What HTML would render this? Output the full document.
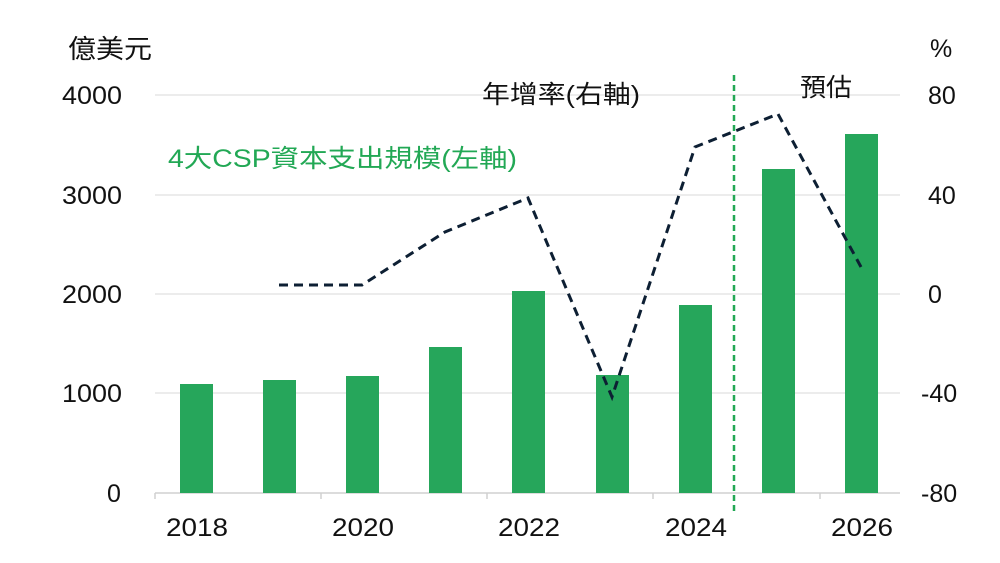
<!DOCTYPE html>
<html><head><meta charset="utf-8"><style>
html,body{margin:0;padding:0;background:#fff;}
svg{display:block;font-family:"Liberation Sans","Noto Sans CJK TC",sans-serif;}
</style></head><body>
<svg width="1000" height="563" viewBox="0 0 1000 563">
<g stroke="#e6e6e6" stroke-width="1.5">
<line x1="155" y1="95" x2="900" y2="95"/>
<line x1="155" y1="195" x2="900" y2="195"/>
<line x1="155" y1="294" x2="900" y2="294"/>
<line x1="155" y1="393" x2="900" y2="393"/>
</g>
<g stroke="#d0d0d0" stroke-width="1.5">
<line x1="155" y1="493" x2="900" y2="493"/>
<line x1="155" y1="493" x2="155" y2="499"/>
<line x1="321" y1="493" x2="321" y2="499"/>
<line x1="487" y1="493" x2="487" y2="499"/>
<line x1="653" y1="493" x2="653" y2="499"/>
<line x1="820" y1="493" x2="820" y2="499"/>
</g>
<g fill="#26a65b">
<rect x="180" y="384" width="33" height="109"/>
<rect x="263" y="380" width="33" height="113"/>
<rect x="346" y="376" width="33" height="117"/>
<rect x="429" y="347" width="33" height="146"/>
<rect x="512" y="291" width="33" height="202"/>
<rect x="596" y="375" width="33" height="118"/>
<rect x="679" y="305" width="33" height="188"/>
<rect x="762" y="169" width="33" height="324"/>
<rect x="845" y="134" width="33" height="359"/>
</g>
<line x1="734" y1="75" x2="734" y2="512" stroke="#22a855" stroke-width="2.5" stroke-dasharray="6,4"/>
<polyline points="279,285 362,285 445,232 528,198 612,397 695,147 778,114 861,267" fill="none" stroke="#0d1f33" stroke-width="3" stroke-dasharray="9,6"/>
<g font-size="25" fill="#111">
<text x="62" y="104" textLength="60" lengthAdjust="spacingAndGlyphs">4000</text>
<text x="62" y="204" textLength="60" lengthAdjust="spacingAndGlyphs">3000</text>
<text x="62" y="303" textLength="60" lengthAdjust="spacingAndGlyphs">2000</text>
<text x="62" y="402" textLength="60" lengthAdjust="spacingAndGlyphs">1000</text>
<text x="107" y="502">0</text>
<text x="928" y="104">80</text>
<text x="928" y="204">40</text>
<text x="928" y="303">0</text>
<text x="921" y="402">-40</text>
<text x="921" y="502">-80</text>
<text x="930" y="57">%</text>
<text x="166" y="536" textLength="62" lengthAdjust="spacingAndGlyphs">2018</text>
<text x="332" y="536" textLength="62" lengthAdjust="spacingAndGlyphs">2020</text>
<text x="498" y="536" textLength="62" lengthAdjust="spacingAndGlyphs">2022</text>
<text x="665" y="536" textLength="62" lengthAdjust="spacingAndGlyphs">2024</text>
<text x="831" y="536" textLength="62" lengthAdjust="spacingAndGlyphs">2026</text>
</g>
<text x="68" y="58" font-size="26" fill="#111" textLength="84" lengthAdjust="spacingAndGlyphs">億美元</text>
<text x="482" y="103" font-size="25" fill="#111" textLength="158" lengthAdjust="spacingAndGlyphs">年增率(右軸)</text>
<text x="800" y="96" font-size="25" fill="#111" textLength="52" lengthAdjust="spacingAndGlyphs">預估</text>
<text x="168" y="167" font-size="25" fill="#22a855" textLength="349" lengthAdjust="spacingAndGlyphs">4大CSP資本支出規模(左軸)</text>
</svg>
</body></html>
